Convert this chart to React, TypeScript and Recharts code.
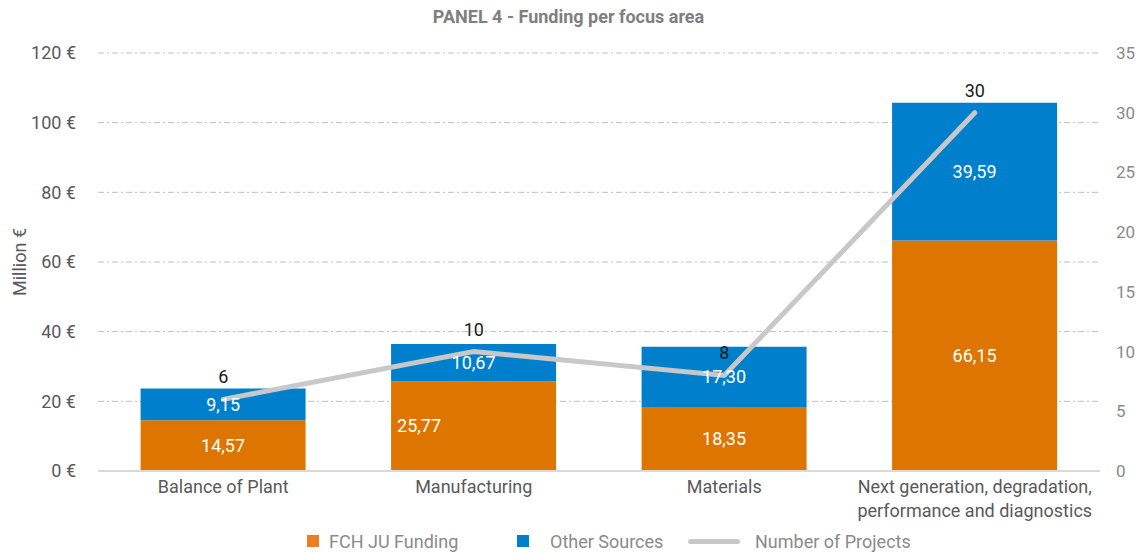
import {
  Bar,
  CartesianGrid,
  ComposedChart,
  LabelList,
  Legend,
  Line,
  XAxis,
  YAxis
} from "recharts";

const categories = [
  "Balance of Plant",
  "Manufacturing",
  "Materials",
  "Next generation, degradation, performance and diagnostics"
];
const fchFunding = [14.57, 25.77, 18.35, 66.15];
const otherSources = [9.15, 10.67, 17.3, 39.59];
const projectCounts = [6, 10, 8, 30];
const leftTicks = [0, 20, 40, 60, 80, 100, 120];
const rightTicks = [0, 5, 10, 15, 20, 25, 30, 35];

const data = categories.map((name, i) => ({
  name,
  fch: fchFunding[i],
  other: otherSources[i],
  projects: projectCounts[i]
}));

const FONT = "Roboto, 'Liberation Sans', sans-serif";
const ORANGE = "#dd7500";
const BLUE = "#0080cc";
const GREY_LINE = "#c8c8c8";

const fmt = (v: any) => Number(v).toFixed(2).replace(".", ",");

function CategoryTick(props: any) {
  const { x, y, payload } = props;
  const lines =
    payload.value.startsWith("Next generation")
      ? ["Next generation, degradation,", "performance and diagnostics"]
      : [payload.value];
  return (
    <text x={x} y={y} textAnchor="middle" fill="#595959" fontSize={18} fontFamily={FONT}>
      {lines.map((l, i) => (
        <tspan key={l} x={x} dy={i === 0 ? 14 : 24}>
          {l}
        </tspan>
      ))}
    </text>
  );
}

// the FCH label on Manufacturing sits off-centre in the original
function FchLabel(props: any) {
  const { x, y, width, height, value, index } = props;
  const cx = index === 1 ? x + 28 : x + width / 2;
  return (
    <text x={cx} y={y + height / 2} dy={6} textAnchor="middle" fill="#fff" fontSize={18} fontFamily={FONT}>
      {fmt(value)}
    </text>
  );
}

function LegendContent() {
  const text = { color: "#8a8a8a", fontSize: 18, fontFamily: FONT, display: "inline-block" };
  return (
    <div style={{ display: "flex", alignItems: "center", height: 24, paddingLeft: 307 }}>
      <span style={{ width: 12, height: 12, background: "#ee7d21", marginRight: 10 }} />
      <span style={{ ...text, width: 188 }}>FCH JU Funding</span>
      <span style={{ width: 12, height: 12, background: BLUE, marginRight: 21 }} />
      <span style={{ ...text, width: 138 }}>Other Sources</span>
      <span style={{ width: 52, height: 5, borderRadius: 3, background: GREY_LINE, marginRight: 15 }} />
      <span style={text}>Number of Projects</span>
    </div>
  );
}

export default function App() {
  return (
    <div style={{ position: "absolute", left: 0, top: 0, width: 1137, height: 553, background: "#fff" }}>
      <div
        style={{
          position: "absolute",
          top: 6,
          width: 1137,
          textAlign: "center",
          fontFamily: FONT,
          fontWeight: "bold",
          fontSize: 18,
          color: "#7f7f7f"
        }}
      >
        PANEL 4 - Funding per focus area
      </div>
      <ComposedChart
        width={1137}
        height={553}
        data={data}
        barCategoryGap="17%"
        margin={{ top: 53, right: 0, bottom: 0, left: 0 }}
      >
        <CartesianGrid
          yAxisId="left"
          vertical={false}
          stroke="#bdbdbd"
          strokeDasharray="6 3 2 3"
          horizontalValues={[20, 40, 60, 80, 100, 120]}
        />
        <XAxis
          dataKey="name"
          height={58}
          interval={0}
          tickLine={false}
          axisLine={{ stroke: "#d9d9d9", strokeWidth: 2 }}
          tick={<CategoryTick />}
        />
        <YAxis
          yAxisId="left"
          width={98}
          domain={[0, 120]}
          ticks={leftTicks}
          tickLine={false}
          axisLine={false}
          tickMargin={16}
          tickFormatter={(v) => `${v} €`}
          tick={{ fill: "#595959", fontSize: 18, fontFamily: FONT }}
          label={{
            value: "Million €",
            angle: -90,
            position: "insideLeft",
            offset: 20,
            style: { fill: "#595959", fontSize: 18, fontFamily: FONT, textAnchor: "middle" }
          }}
        />
        <YAxis
          yAxisId="right"
          orientation="right"
          width={37}
          domain={[0, 35]}
          ticks={rightTicks}
          tickLine={false}
          axisLine={false}
          tickMargin={10}
          tick={{ fill: "#8a8a8a", fontSize: 17, fontFamily: FONT, textAnchor: "start" }}
        />
        <Legend verticalAlign="bottom" height={24} content={<LegendContent />} />
        <Bar yAxisId="left" dataKey="fch" stackId="a" fill={ORANGE} isAnimationActive={false}>
          <LabelList dataKey="fch" content={<FchLabel />} />
        </Bar>
        <Bar yAxisId="left" dataKey="other" stackId="a" fill={BLUE} isAnimationActive={false}>
          <LabelList dataKey="other" position="center" formatter={fmt} fill="#fff" fontSize={18} fontFamily={FONT} />
        </Bar>
        <Line
          yAxisId="right"
          dataKey="projects"
          stroke={GREY_LINE}
          strokeWidth={5}
          strokeLinecap="round"
          dot={false}
          activeDot={false}
          isAnimationActive={false}
        >
          <LabelList dataKey="projects" position="top" offset={16} fill="#1a1a1a" fontSize={18} fontFamily={FONT} />
        </Line>
      </ComposedChart>
    </div>
  );
}
